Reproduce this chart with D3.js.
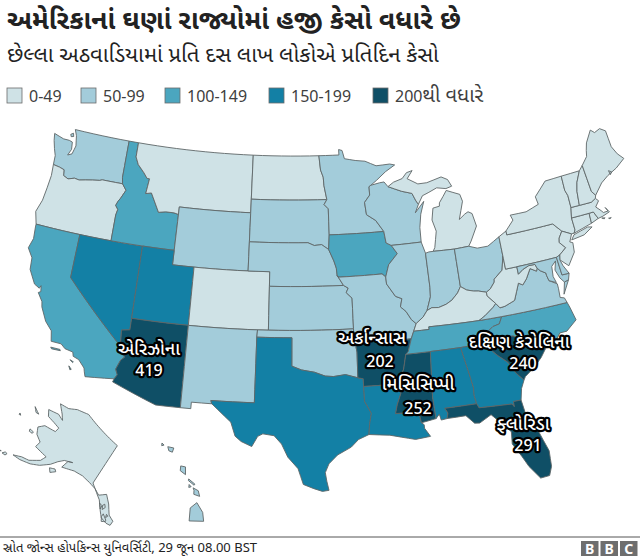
<!DOCTYPE html>
<html>
<head>
<meta charset="utf-8">
<script src="https://d3js.org/d3.v7.min.js"></script>
<style>
  body { margin: 0; background: #fff; }
  text { font-family: "Noto Sans", "Noto Sans Gujarati", sans-serif; fill: #222; }
  .label { fill: #fff; stroke: #000; stroke-width: 4.5px; paint-order: stroke; stroke-linejoin: round; text-anchor: middle; font-size: 18px; font-weight: 500; }
  .label.num { font-size: 16px; }
</style>
</head>
<body>
<script>
var titleText = "અમેરિકાનાં ઘણાં રાજ્યોમાં હજી કેસો વધારે છે";
var subtitleText = "છેલ્લા અઠવાડિયામાં પ્રતિ દસ લાખ લોકોએ પ્રતિદિન કેસો";
var sourceText = "સ્રોત જોન્સ હોપકિન્સ યુનિવર્સિટી, 29 જૂન 08.00 BST";

var legendLabels = ["0-49", "50-99", "100-149", "150-199", "200થી વધારે"];
var legendColours = ["#cfe2e6", "#a3ccda", "#4ba6bf", "#1380a5", "#0f4f66"];

var stateCodes = ["WA","OR","CA","NV","ID","MT","WY","UT","AZ","CO","NM","ND","SD","NE","KS","OK","TX","MN","IA","MO","AR","LA","WI","IL","MS","MI","IN","OH","KY","TN","AL","GA","FL","SC","NC","VA","WV","PA","NY","NJ","MD","DE","CT","RI","MA","VT","NH","ME","AK","HI"];
var stateBands = [1,0,2,3,2,0,1,3,4,0,1,0,1,1,1,1,3,1,2,1,4,3,1,1,4,0,1,1,0,2,3,3,4,4,2,1,0,0,0,0,1,1,0,0,0,0,0,0,0,1];

var calloutNames = ["એરિઝોના", "અર્કાન્સાસ", "મિસિસિપ્પી", "દક્ષિણ કેરોલિના", "ફ્લોરિડા"];
var calloutValues = [419, 202, 252, 240, 291];

// rough state outlines, lon/lat
var stateShapes = {
  WA: [[[-124.73,48.38],[-124.6,47.9],[-124.35,47.35],[-124.1,46.9],[-124.05,46.27],[-123.4,46.2],[-122.9,46.1],[-122.8,45.7],[-122.3,45.55],[-121.7,45.7],[-121.2,45.65],[-120.6,45.75],[-119.9,45.85],[-119.2,45.93],[-118.98,46],[-116.92,46],[-117.04,46.42],[-117.04,49],[-122.76,49],[-122.5,48.6],[-122.4,48.25],[-122.3,47.9],[-122.4,47.6],[-122.5,47.3],[-122.9,47.15],[-122.65,47.6],[-122.75,48.1],[-123.1,48.17],[-123.7,48.17]],
    [[-123.1,48.6],[-122.85,48.72],[-122.75,48.5],[-123,48.45]]],
  OR: [[[-124.05,46.27],[-123.97,45.5],[-124.07,44.6],[-124.2,43.7],[-124.55,42.84],[-124.21,42],[-117.03,42],[-117.03,43.8],[-116.93,44.2],[-117.2,44.45],[-117.05,44.75],[-116.85,45],[-116.47,45.6],[-116.92,46],[-118.98,46],[-119.2,45.93],[-119.9,45.85],[-120.6,45.75],[-121.2,45.65],[-121.7,45.7],[-122.3,45.55],[-122.8,45.7],[-122.9,46.1],[-123.4,46.2]]],
  CA: [[[-124.21,42],[-120,42],[-120,39],[-114.63,35],[-114.14,34.3],[-114.43,34.05],[-114.72,33.4],[-114.52,33.03],[-114.72,32.72],[-117.12,32.53],[-117.25,32.85],[-117.33,33.1],[-117.9,33.6],[-118.4,33.75],[-118.5,34.03],[-119.2,34.15],[-119.6,34.42],[-120.47,34.45],[-120.65,35.15],[-121.3,35.7],[-121.9,36.6],[-122,36.95],[-122.5,37.5],[-122.3,37.6],[-122.4,38],[-122.5,37.8],[-123,38],[-123.7,38.9],[-123.8,39.7],[-124.35,40.3],[-124.1,41],[-124.2,41.8]],
    [[-120.4,34.05],[-119.6,34.03],[-119.55,33.95],[-120.3,33.95]],[[-118.6,33.48],[-118.3,33.38],[-118.35,33.32]],[[-118.6,33.05],[-118.35,32.85],[-118.45,32.8]]],
  NV: [[[-120,42],[-114.04,42],[-114.04,36.2],[-114.75,36.1],[-114.63,35],[-120,39]]],
  ID: [[[-117.04,49],[-116.05,49],[-116.05,48],[-115.7,47.5],[-115,47],[-114.6,46.65],[-114.35,46.65],[-114.5,45.6],[-113.95,45.7],[-113.45,45.05],[-113,44.45],[-112.3,44.55],[-111.5,44.55],[-111.05,44.48],[-111.05,42],[-117.03,42],[-117.03,43.8],[-116.93,44.2],[-117.2,44.45],[-117.05,44.75],[-116.85,45],[-116.47,45.6],[-116.92,46],[-117.04,46.42]]],
  MT: [[[-116.05,49],[-104.05,49],[-104.05,45],[-111.05,45],[-111.05,44.48],[-111.5,44.55],[-112.3,44.55],[-113,44.45],[-113.45,45.05],[-113.95,45.7],[-114.5,45.6],[-114.35,46.65],[-114.6,46.65],[-115,47],[-115.7,47.5],[-116.05,48]]],
  WY: [[[-111.05,45],[-104.05,45],[-104.05,41],[-111.05,41]]],
  UT: [[[-114.04,42],[-111.05,42],[-111.05,41],[-109.05,41],[-109.05,37],[-114.04,37]]],
  AZ: [[[-114.04,37],[-109.05,37],[-109.05,31.33],[-111.07,31.33],[-114.81,32.5],[-114.72,32.72],[-114.52,33.03],[-114.72,33.4],[-114.43,34.05],[-114.14,34.3],[-114.63,35],[-114.75,36.1],[-114.04,36.2]]],
  CO: [[[-109.05,41],[-102.05,41],[-102.05,37],[-109.05,37]]],
  NM: [[[-109.05,37],[-103,37],[-103.04,36.5],[-103.06,32],[-106.62,32],[-106.53,31.78],[-108.2,31.78],[-108.2,31.33],[-109.05,31.33]]],
  ND: [[[-104.05,49],[-97.23,49],[-97.1,48],[-96.85,47.5],[-96.8,46.9],[-96.56,45.94],[-104.05,45.94]]],
  SD: [[[-104.05,45.94],[-96.56,45.94],[-96.85,45.6],[-96.45,45.3],[-96.45,43.5],[-96.55,42.5],[-97.2,42.85],[-97.9,42.8],[-98.5,43],[-104.05,43]]],
  NE: [[[-104.05,43],[-98.5,43],[-97.9,42.8],[-97.2,42.85],[-96.55,42.5],[-96.1,41.7],[-95.9,41.2],[-95.85,40.7],[-95.31,40],[-102.05,40],[-102.05,41],[-104.05,41]]],
  KS: [[[-102.05,40],[-95.31,40],[-94.9,39.8],[-95.1,39.5],[-94.6,39.1],[-94.62,37],[-102.05,37]]],
  OK: [[[-103,37],[-94.62,37],[-94.62,36.5],[-94.43,35.4],[-94.48,33.64],[-95.5,33.9],[-96.5,33.8],[-97.2,33.85],[-98.1,34.13],[-99.2,34.3],[-100,34.56],[-100,36.5],[-103.04,36.5]]],
  TX: [[[-103.04,36.5],[-100,36.5],[-100,34.56],[-99.2,34.3],[-98.1,34.13],[-97.2,33.85],[-96.5,33.8],[-95.5,33.9],[-94.48,33.64],[-94.04,33.55],[-94.04,33.02],[-94.04,32],[-93.55,31.15],[-93.75,30.4],[-93.85,29.7],[-94.7,29.4],[-95.3,28.9],[-96.4,28.4],[-97.1,27.8],[-97.4,27.2],[-97.3,26.6],[-97.15,25.96],[-97.65,25.9],[-98.3,26.1],[-99.1,26.4],[-99.5,27.5],[-100.3,28.3],[-100.8,29.2],[-101.4,29.77],[-102.3,29.88],[-102.7,29.7],[-103.15,28.98],[-104,29.3],[-104.5,29.65],[-104.9,30.6],[-106,31.4],[-106.53,31.78],[-106.62,32],[-103.06,32]]],
  MN: [[[-97.23,49],[-95.15,49],[-95.15,49.38],[-94.8,49.3],[-94.6,48.72],[-93.5,48.55],[-92.5,48.45],[-91.4,48.07],[-90,48.1],[-89.5,48],[-90.5,47.6],[-91.5,47.05],[-92.1,46.75],[-92.29,46.66],[-92.29,46.08],[-92.85,45.6],[-92.75,44.75],[-91.9,44.3],[-91.22,43.5],[-96.45,43.5],[-96.45,45.3],[-96.85,45.6],[-96.56,45.94],[-96.8,46.9],[-96.85,47.5],[-97.1,48]]],
  IA: [[[-96.45,43.5],[-91.22,43.5],[-91.1,42.7],[-90.64,42.5],[-90.15,41.9],[-91.05,41.2],[-91.42,40.38],[-91.73,40.61],[-95.77,40.58],[-95.85,40.7],[-95.9,41.2],[-96.1,41.7],[-96.55,42.5]]],
  MO: [[[-95.77,40.58],[-91.73,40.61],[-91.42,40.38],[-91.4,39.9],[-90.7,39],[-90.15,38.8],[-90.35,38.25],[-89.9,37.9],[-89.5,37.3],[-89.13,37],[-89.42,36.5],[-89.7,36],[-90.37,36],[-90.15,36.5],[-94.62,36.5],[-94.62,37],[-94.6,39.1],[-95.1,39.5],[-94.9,39.8],[-95.31,40],[-95.85,40.7]]],
  AR: [[[-94.62,36.5],[-90.15,36.5],[-90.37,36],[-89.7,36],[-90.07,35.15],[-90.3,34.99],[-90.6,34],[-91.15,33.02],[-94.04,33.02],[-94.04,33.55],[-94.48,33.64],[-94.43,35.4]]],
  LA: [[[-94.04,33.02],[-91.15,33.02],[-91,32.4],[-91.4,31.6],[-91.6,31],[-89.73,31],[-89.6,30.2],[-89.4,30.05],[-89.4,29.8],[-89,29.2],[-90.2,29.1],[-91.3,29.35],[-92.2,29.55],[-93.85,29.7],[-93.75,30.4],[-93.55,31.15],[-94.04,32]]],
  WI: [[[-92.1,46.75],[-91.2,46.87],[-90.75,46.9],[-90.4,46.55],[-89.1,46.13],[-88.1,45.9],[-87.8,45.35],[-87.6,45.1],[-88,44.55],[-87.05,45.25],[-87.5,44.4],[-87.75,43.5],[-87.8,42.5],[-90.64,42.5],[-91.1,42.7],[-91.22,43.5],[-91.9,44.3],[-92.75,44.75],[-92.85,45.6],[-92.29,46.08],[-92.29,46.66]]],
  IL: [[[-90.64,42.5],[-87.8,42.5],[-87.53,41.7],[-87.53,39.35],[-87.6,38.7],[-87.95,38],[-88.05,37.8],[-88.45,37.4],[-89.13,37],[-89.5,37.3],[-89.9,37.9],[-90.35,38.25],[-90.15,38.8],[-90.7,39],[-91.4,39.9],[-91.42,40.38],[-91.05,41.2],[-90.15,41.9]]],
  MS: [[[-90.3,34.99],[-88.2,34.99],[-88.47,31.9],[-88.4,30.37],[-89.6,30.2],[-89.73,31],[-91.6,31],[-91.4,31.6],[-91,32.4],[-91.15,33.02],[-90.6,34]]],
  MI: [[[-86.8,41.76],[-84.81,41.7],[-83.45,41.73],[-83.15,42.05],[-82.4,43],[-82.6,43.9],[-82.95,44.07],[-83.3,43.95],[-83.9,43.65],[-83.3,44.85],[-83.45,45.35],[-84.7,45.77],[-85.1,45.4],[-85.55,45],[-85.6,44.77],[-86.25,44.7],[-86.5,43.9],[-86.25,43.1],[-86.6,42]],
    [[-90.4,46.55],[-89.8,46.82],[-88.9,47],[-88.4,47.37],[-87.8,47.47],[-88.4,46.95],[-87.4,46.5],[-86.5,46.5],[-85,46.75],[-84.4,46.5],[-84.1,46],[-84.7,45.9],[-85.6,46.05],[-86.5,45.8],[-87.1,45.65],[-87.6,45.1],[-87.8,45.35],[-88.1,45.9],[-89.1,46.13]]],
  IN: [[[-87.53,41.7],[-87.2,41.76],[-86.8,41.76],[-84.81,41.7],[-84.81,39.1],[-85.15,38.7],[-85.75,38.27],[-86.3,38.05],[-87,37.9],[-87.6,37.95],[-88.05,37.8],[-87.95,38],[-87.6,38.7],[-87.53,39.35]]],
  OH: [[[-84.81,41.7],[-83.45,41.73],[-82.7,41.5],[-81.7,41.5],[-80.52,41.98],[-80.52,40.64],[-80.85,39.7],[-81.7,39.2],[-81.75,39],[-82.2,38.6],[-82.6,38.42],[-83.3,38.6],[-83.7,38.65],[-84.3,38.8],[-84.81,39.1]]],
  KY: [[[-84.81,39.1],[-84.3,38.8],[-83.7,38.65],[-83.3,38.6],[-82.6,38.42],[-82.6,38.17],[-81.97,37.54],[-82.3,37.3],[-83.1,36.85],[-83.68,36.6],[-88.07,36.68],[-88.07,36.5],[-89.42,36.5],[-89.13,37],[-88.45,37.4],[-88.05,37.8],[-87.6,37.95],[-87,37.9],[-86.3,38.05],[-85.75,38.27],[-85.15,38.7]]],
  TN: [[[-89.42,36.5],[-88.07,36.5],[-88.07,36.68],[-83.68,36.6],[-81.68,36.59],[-82,36.13],[-82.6,36.03],[-83.1,35.75],[-84,35.4],[-84.32,34.99],[-85.6,34.98],[-88.2,34.99],[-90.3,34.99],[-90.07,35.15],[-89.7,36]]],
  AL: [[[-88.2,34.99],[-85.6,34.98],[-85.18,32.87],[-85.05,32.1],[-85.1,31.6],[-85,31],[-87.6,31],[-87.4,30.65],[-87.52,30.28],[-88,30.23],[-88.1,30.65],[-88.4,30.37],[-88.47,31.9]]],
  GA: [[[-85.6,34.98],[-84.32,34.99],[-83.1,35],[-83.35,34.7],[-82.6,34],[-81.9,33.45],[-81.4,32.6],[-80.87,32.03],[-81.2,31.5],[-81.42,30.72],[-82.05,30.72],[-82.05,30.36],[-82.2,30.57],[-84.86,30.7],[-85,31],[-85.1,31.6],[-85.05,32.1],[-85.18,32.87]]],
  FL: [[[-87.6,31],[-85,31],[-84.86,30.7],[-82.2,30.57],[-82.05,30.36],[-82.05,30.72],[-81.42,30.72],[-81.3,29.9],[-80.6,28.5],[-80.05,26.9],[-80.12,25.8],[-80.4,25.2],[-81.1,25.15],[-81.8,26.1],[-82.2,26.9],[-82.75,27.85],[-82.65,28.7],[-83.4,29.5],[-84,30.1],[-85,29.65],[-85.4,29.7],[-86,30.3],[-87.52,30.28],[-87.4,30.65]]],
  SC: [[[-83.1,35],[-82.3,35.2],[-81.04,35.15],[-80.78,35],[-80.8,34.82],[-79.67,34.8],[-78.55,33.86],[-79.1,33.3],[-79.9,32.7],[-80.7,32.25],[-80.87,32.03],[-81.4,32.6],[-81.9,33.45],[-82.6,34],[-83.35,34.7]]],
  NC: [[[-84.32,34.99],[-84,35.4],[-83.1,35.75],[-82.6,36.03],[-82,36.13],[-81.68,36.59],[-75.87,36.55],[-75.75,36.2],[-75.5,35.25],[-76.5,34.65],[-77.1,34.65],[-77.9,33.9],[-78.55,33.86],[-79.67,34.8],[-80.8,34.82],[-80.78,35],[-81.04,35.15],[-82.3,35.2],[-83.1,35]]],
  VA: [[[-83.68,36.6],[-81.68,36.59],[-75.87,36.55],[-76,36.9],[-76.35,37],[-76.3,37.6],[-76.3,37.95],[-76.95,38.3],[-77.05,38.7],[-77.05,38.85],[-77.5,39.1],[-77.72,39.32],[-77.83,39.13],[-78.35,39.4],[-78.87,38.77],[-79.3,38.42],[-79.65,38.6],[-80.3,37.5],[-81.23,37.24],[-81.68,37.2],[-81.97,37.54],[-82.3,37.3],[-83.1,36.85]],
    [[-75.95,37.15],[-75.25,38.03],[-75.65,37.95]]],
  WV: [[[-81.97,37.54],[-82.6,38.17],[-82.6,38.42],[-82.2,38.6],[-81.75,39],[-81.7,39.2],[-80.85,39.7],[-80.52,40.64],[-80.52,39.72],[-79.48,39.72],[-79.48,39.2],[-79,39.45],[-78.4,39.62],[-77.83,39.6],[-77.72,39.32],[-77.83,39.13],[-78.35,39.4],[-78.87,38.77],[-79.3,38.42],[-79.65,38.6],[-80.3,37.5],[-81.23,37.24],[-81.68,37.2]]],
  PA: [[[-80.52,41.98],[-79.76,42.27],[-79.76,42],[-75.35,42],[-74.7,41.36],[-75.1,40.95],[-75.2,40.65],[-74.75,40.2],[-75.45,39.82],[-75.79,39.72],[-80.52,39.72]]],
  NY: [[[-79.76,42.27],[-78.9,42.9],[-79.05,43.27],[-77.5,43.25],[-76.2,43.55],[-76.3,44.1],[-75,44.98],[-73.35,45.01],[-73.4,44],[-73.25,43.6],[-73.28,42.75],[-73.5,42.05],[-73.49,41.2],[-73.65,41],[-73.9,41],[-74.7,41.36],[-75.35,42],[-79.76,42]],
    [[-74.03,40.6],[-73.7,40.9],[-72.3,41.15],[-71.9,41.07],[-72.8,40.7]]],
  NJ: [[[-74.7,41.36],[-73.9,41],[-74.25,40.5],[-74,40.4],[-74.1,39.75],[-74.9,38.95],[-75.55,39.5],[-75.45,39.82],[-74.75,40.2],[-75.2,40.65],[-75.1,40.95]]],
  MD: [[[-79.48,39.72],[-75.79,39.72],[-75.7,38.46],[-75.05,38.45],[-75.25,38.03],[-75.65,37.95],[-75.95,38.3],[-76.2,38.9],[-75.95,39.5],[-76.4,39.2],[-76.5,38.5],[-76.35,38.05],[-76.95,38.3],[-77.05,38.7],[-77.05,38.85],[-77.5,39.1],[-77.72,39.32],[-77.83,39.6],[-78.4,39.62],[-79,39.45],[-79.48,39.2]]],
  DE: [[[-75.79,39.72],[-75.45,39.82],[-75.55,39.5],[-75.4,39.05],[-75.05,38.45],[-75.7,38.46]]],
  CT: [[[-73.5,42.05],[-71.8,42.02],[-71.85,41.32],[-73.65,41],[-73.49,41.2]]],
  RI: [[[-71.8,42.02],[-71.38,42.02],[-71.12,41.5],[-71.85,41.32]]],
  MA: [[[-73.5,42.05],[-73.28,42.75],[-71.3,42.7],[-70.82,42.87],[-70.6,42.65],[-71.03,42.3],[-70.65,41.95],[-70.5,41.78],[-70.05,41.78],[-70.2,42.07],[-69.95,41.7],[-70.65,41.55],[-71.12,41.5],[-71.38,42.02],[-71.8,42.02]],
    [[-70.8,41.45],[-70.5,41.4],[-70.6,41.35]],[[-70.2,41.3],[-69.95,41.28],[-70.1,41.24]]],
  VT: [[[-73.35,45.01],[-71.5,45.01],[-72.05,44.3],[-72.3,43.7],[-72.46,42.73],[-73.28,42.75],[-73.25,43.6],[-73.4,44]]],
  NH: [[[-71.5,45.01],[-71.08,45.3],[-70.98,43.4],[-70.7,43.07],[-70.82,42.87],[-71.3,42.7],[-72.46,42.73],[-72.3,43.7],[-72.05,44.3]]],
  ME: [[[-71.08,45.3],[-70.4,45.8],[-70.25,46.2],[-70,46.7],[-69.23,47.46],[-68.9,47.2],[-68.3,47.35],[-67.8,47.07],[-67.78,45.9],[-67.45,45.3],[-67,44.85],[-68,44.4],[-69,44.1],[-69.8,43.75],[-70.7,43.07],[-70.98,43.4]],
    [[-68.8,44.4],[-68.55,44.25],[-68.75,44.1]]],
  AK: [[[-141,69.65],[-141,60.3],[-139.5,59.6],[-137.5,58.9],[-135.5,59.8],[-133.5,58.4],[-131.8,56.6],[-130,55.9],[-130.2,55],[-131.5,55],[-133.5,55.5],[-134.7,56.5],[-135.8,57.5],[-136.6,58.2],[-139.5,59.6],[-142,60],[-145,60.3],[-148,60.1],[-149.7,59.7],[-151.8,59.2],[-151.4,60.8],[-150,61.2],[-152.5,60.5],[-153.8,59.5],[-155,58.2],[-157.2,56.7],[-159.5,55.7],[-162.5,54.9],[-164.8,54.6],[-162.7,55.5],[-160.5,56],[-158,57.5],[-157.5,58.7],[-159,58.7],[-162,58.7],[-162,59.9],[-164.5,60.5],[-166,61.6],[-164.8,62.8],[-161,63.5],[-161,64.5],[-163.5,64.6],[-166.3,64.6],[-168,65.6],[-164.5,66.5],[-162,66.2],[-163.7,67.1],[-166.8,68.35],[-163.5,69],[-161,70.3],[-156.7,71.35],[-152,70.8],[-146,70.15]],
    [[-154.5,57.6],[-153,58.1],[-152.3,57.8],[-153.5,57]],[[-167.2,60.2],[-165.8,60.3],[-165.7,59.95],[-166.8,59.8]],[[-171.7,63.8],[-169,63.4],[-170,63.2]],
    [[-166.9,53.9],[-166.2,53.95],[-166.3,53.5],[-167.3,53.35]],[[-168.9,53.2],[-167.9,53.5],[-168.2,53.25]],[[-172.5,52.3],[-174.5,52.1],[-176,52],[-174,52.05]],[[-178,51.9],[-176.5,51.9],[-176.8,51.6]],
    [[-173.1,60.65],[-172.4,60.5],[-172.9,60.35]],[[-134.5,58],[-133.9,57.5],[-134.4,56.9],[-134.9,57.6]],[[-136,57.7],[-135,57.5],[-135,56.8]],[[-133.5,56.3],[-132,55.5],[-131.9,55.2],[-133,54.9],[-133.6,55.7]],[[-132.6,56.5],[-132,56.3],[-132.4,55.9]]],
  HI: [[[-155.9,20.25],[-155.2,19.95],[-154.8,19.5],[-155.6,18.95],[-156.05,19.7]],[[-156.7,20.9],[-156.3,20.95],[-156,20.7],[-156.4,20.58],[-156.55,20.8]],[[-157.3,21.2],[-156.75,21.17],[-156.75,21.08],[-157.25,21.1]],[[-157.05,20.92],[-156.85,20.88],[-156.95,20.75]],[[-158.27,21.57],[-157.97,21.71],[-157.65,21.3],[-158.1,21.3]],[[-159.78,22.05],[-159.4,22.23],[-159.3,21.95],[-159.55,21.88]],[[-160.25,22],[-160.05,21.98],[-160.15,21.85]]]
};

var width = 640, height = 557;

var svg = d3.select("body").append("svg")
    .attr("width", width)
    .attr("height", height);

// lower 48, then Alaska and Hawaii moved into the corner keeping the same cone
var main = d3.geoAlbers().scale(830).translate([330, 305]).angle(2.3);
var alaska = anchored(d3.geoAlbers().scale(330).angle(-6), [-141, 60.3], [93, 483]);
var hawaii = anchored(d3.geoAlbers().scale(880), [-155.5, 19.6], [196, 514]);

function anchored(p, lonlat, target) {
  p.translate([0, 0]);
  var xy = p(lonlat);
  return p.translate([target[0] - xy[0], target[1] - xy[1]]);
}

// extra points so that straight lon/lat runs follow the parallels
function fineRing(ring) {
  var out = [];
  ring.forEach(function(a, i) {
    var b = ring[(i + 1) % ring.length];
    var steps = Math.ceil(Math.max(Math.abs(b[0] - a[0]), Math.abs(b[1] - a[1])));
    for (var s = 0; s < steps; s++) {
      out.push([a[0] + (b[0] - a[0]) * s / steps, a[1] + (b[1] - a[1]) * s / steps]);
    }
  });
  out.push(out[0]);
  // d3 wants small rings clockwise
  if (d3.geoArea({type: "Polygon", coordinates: [out]}) > 2 * Math.PI) out.reverse();
  return out;
}

var features = stateCodes.map(function(code, i) {
  return {
    code: code,
    band: stateBands[i],
    geometry: {type: "MultiPolygon", coordinates: stateShapes[code].map(function(r) { return [fineRing(r)]; })},
    type: "Feature"
  };
});

var colour = d3.scaleOrdinal().domain([0, 1, 2, 3, 4]).range(legendColours);

function pathFor(d) {
  var p = d.code == "AK" ? alaska : d.code == "HI" ? hawaii : main;
  return d3.geoPath(p)(d);
}

svg.append("g").selectAll("path")
    .data(features)
  .enter().append("path")
    .attr("d", pathFor)
    .attr("fill", function(d) { return colour(d.band); })
    .attr("stroke", "#5f6668")
    .attr("stroke-width", 0.9)
    .attr("stroke-linejoin", "round");

// headline
svg.append("text").attr("x", 7).attr("y", 29)
    .style("font-size", "26.6px").style("font-weight", 700).text(titleText);
svg.append("text").attr("x", 7).attr("y", 62)
    .style("font-size", "22px").text(subtitleText);

// legend
var legendSwatchX = [7, 81, 165, 269, 373];
var legend = svg.append("g").selectAll("g")
    .data(legendLabels)
  .enter().append("g")
    .attr("transform", function(d, i) { return "translate(" + legendSwatchX[i] + ",88)"; });
legend.append("rect")
    .attr("width", 15).attr("height", 15)
    .attr("fill", function(d, i) { return legendColours[i]; })
    .attr("stroke", "#6b6b6b").attr("stroke-width", 0.8);
legend.append("text")
    .attr("x", 22).attr("y", 14)
    .style("font-size", "16px").style("fill", "#404040")
    .each(function(d) {
      // the Gujarati part of the last label is set larger than the digits
      var parts = d.match(/^([0-9-]+)(.*)$/);
      d3.select(this).append("tspan").text(parts[1]);
      if (parts[2]) d3.select(this).append("tspan").style("font-size", "20px").text(parts[2]);
    });

// callouts
var calloutNameAt = [[149, 355], [372, 344], [418, 390], [519, 348], [523, 430]];
var calloutValueAt = [[149, 376], [380, 367], [418, 414], [523, 369], [528, 451]];
calloutNames.forEach(function(name, i) {
  svg.append("text").attr("class", "label")
      .attr("x", calloutNameAt[i][0]).attr("y", calloutNameAt[i][1]).text(name);
  svg.append("text").attr("class", "label num")
      .attr("x", calloutValueAt[i][0]).attr("y", calloutValueAt[i][1]).text(calloutValues[i]);
});

// footer
svg.append("line").attr("x1", 0).attr("x2", 640).attr("y1", 537).attr("y2", 537)
    .attr("stroke", "#555").attr("stroke-width", 1);
svg.append("text").attr("x", 3).attr("y", 552)
    .style("font-size", "13px").text(sourceText);

var logo = svg.append("g").selectAll("g")
    .data(["B", "B", "C"])
  .enter().append("g")
    .attr("transform", function(d, i) { return "translate(" + (581 + i * 19.5) + ",541)"; });
logo.append("rect").attr("width", 17.5).attr("height", 15).attr("fill", "#6e6e6e");
logo.append("text").attr("x", 8.75).attr("y", 12.5)
    .attr("text-anchor", "middle")
    .style("font-size", "14px").style("font-weight", 700).style("fill", "#fff")
    .text(function(d) { return d; });
</script>
</body>
</html>
